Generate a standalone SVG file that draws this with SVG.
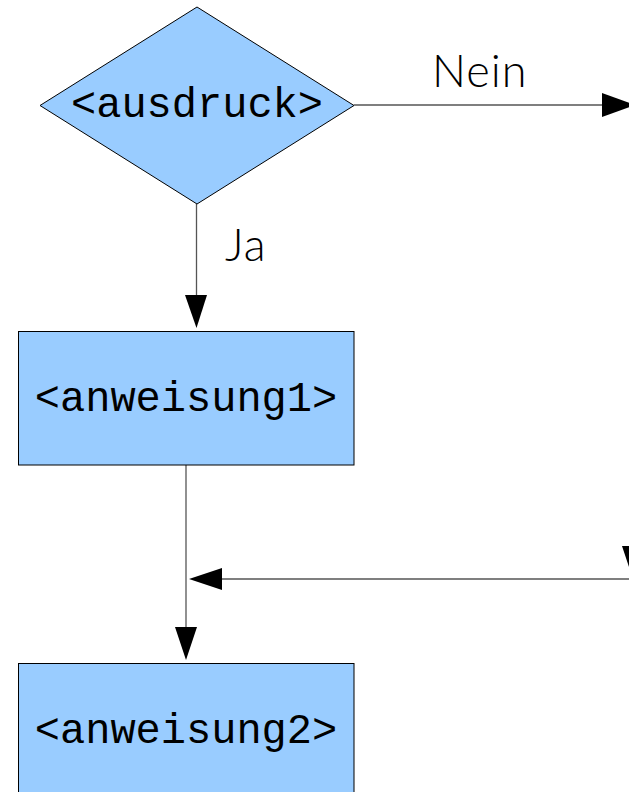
<svg xmlns="http://www.w3.org/2000/svg" width="629" height="792" viewBox="0 0 629 792">
<style>
.shape{fill:#99ccff;stroke:#000;stroke-width:1}
.mono{font-family:"Liberation Mono","Courier New",monospace;font-size:42px;fill:#000;text-anchor:middle}
.lbl{font-family:"Lato","Open Sans",sans-serif;font-size:45px;font-weight:300;fill:#000}
.line{stroke:#555;stroke-width:1.3;fill:none}
.head{fill:#000}
</style>
<rect width="629" height="792" fill="#fff"/>
<g id="connectors">
<line class="line" x1="354" y1="105" x2="603" y2="105"/>
<polygon class="head" points="602,93 635,105 602,117"/>
<line class="line" x1="196.5" y1="204" x2="196.5" y2="296"/>
<polygon class="head" points="185,295 207,295 196.5,328"/>
<line class="line" x1="186" y1="465" x2="186" y2="628"/>
<polygon class="head" points="175,627 197,627 186,660"/>
<line class="line" x1="221" y1="579" x2="629" y2="579"/>
<polygon class="head" points="189,579 222,568 222,590"/>
<line class="line" x1="633" y1="500" x2="633" y2="547"/>
<polygon class="head" points="622,546 644,546 633,579"/>
<text class="lbl" x="432" y="87" style="letter-spacing:1px">Nein</text>
<text class="lbl" x="225" y="261" style="letter-spacing:1px">Ja</text>
</g>
<g id="ausdruck">
<polygon class="shape" points="197,7 354,105.5 197,204 40,105.5"/>
<text class="mono" x="197" y="117">&lt;ausdruck&gt;</text>
</g>
<g id="anweisung1">
<rect class="shape" x="18.5" y="331.5" width="335.5" height="133.5"/>
<text class="mono" x="186" y="410.5">&lt;anweisung1&gt;</text>
</g>
<g id="anweisung2">
<rect class="shape" x="18.5" y="663.5" width="335.5" height="133.5"/>
<text class="mono" x="186" y="742.5">&lt;anweisung2&gt;</text>
</g>
</svg>
